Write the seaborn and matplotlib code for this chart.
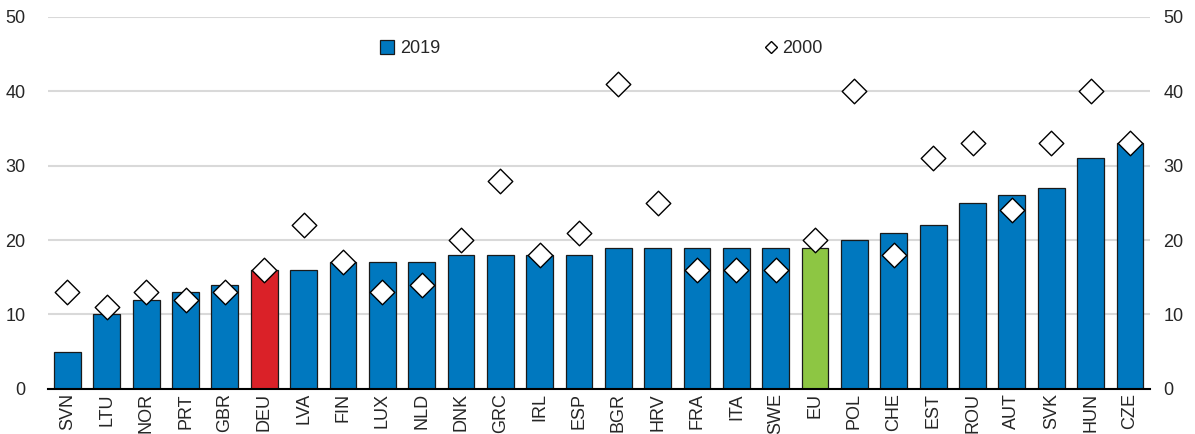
import matplotlib
matplotlib.use("Agg")
import matplotlib.pyplot as plt
import seaborn as sns
from matplotlib.patches import Patch
from matplotlib.lines import Line2D

# Datos
paises = ["SVN", "LTU", "NOR", "PRT", "GBR", "DEU", "LVA", "FIN", "LUX", "NLD",
          "DNK", "GRC", "IRL", "ESP", "BGR", "HRV", "FRA", "ITA", "SWE", "EU",
          "POL", "CHE", "EST", "ROU", "AUT", "SVK", "HUN", "CZE"]
valores_2019 = [5, 10, 12, 13, 14, 16, 16, 17, 17, 17, 18, 18, 18, 18, 19, 19,
                19, 19, 19, 19, 20, 21, 22, 25, 26, 27, 31, 33]
valores_2000 = [13, 11, 13, 12, 13, 16, 22, 17, 13, 14, 20, 28, 18, 21, 41, 25,
                16, 16, 16, 20, 40, 18, 31, 33, 24, 33, 40, 33]
ticks_y = [0, 10, 20, 30, 40, 50]

AZUL = "#0078BF"
ROJO = "#DA2128"
VERDE = "#8DC643"
colores = {p: AZUL for p in paises}
colores["DEU"] = ROJO
colores["EU"] = VERDE

sns.set_style("white")
plt.rcParams["font.family"] = ["Liberation Sans", "DejaVu Sans"]
plt.rcParams["font.size"] = 13

fig = plt.figure(figsize=(11.95, 4.34), dpi=100)
ax = fig.add_axes([0.040, 0.104, 0.922, 0.857])

sns.barplot(x=paises, y=valores_2019, hue=paises, palette=colores, legend=False,
            saturation=1, width=0.68, edgecolor="#1a1a1a", linewidth=0.9,
            ax=ax, zorder=2)
sns.stripplot(x=paises, y=valores_2000, marker="D", jitter=False, size=12.5,
              color="white", edgecolor="black", linewidth=1.0, ax=ax, zorder=3)

ax.set_xlim(-0.5, len(paises) - 0.5)
ax.set_ylim(0, 50)
ax.set_yticks(ticks_y)
ax.grid(axis="y", color="#d9d9d9", linewidth=1.5, zorder=0)
ax.set_axisbelow(True)
for lado in ["top", "right", "left"]:
    ax.spines[lado].set_visible(False)
ax.spines["bottom"].set_color("black")
ax.spines["bottom"].set_linewidth(1.5)
ax.tick_params(axis="x", rotation=90, length=0, pad=3, labelsize=13)
ax.tick_params(axis="y", length=0, pad=16, labelsize=13)

ax2 = ax.twinx()
ax2.set_ylim(0, 50)
ax2.set_yticks(ticks_y)
for lado in ["top", "right", "left", "bottom"]:
    ax2.spines[lado].set_visible(False)
ax2.tick_params(axis="y", length=0, pad=10, labelsize=13)

# Leyendas
leg1 = ax.legend(handles=[Patch(facecolor=AZUL, edgecolor="#1a1a1a", linewidth=0.9)],
                 labels=["2019"], loc="center left", bbox_to_anchor=(0.295, 0.915),
                 frameon=False, handlelength=0.8, handleheight=0.8, handletextpad=0.3,
                 fontsize=13, borderaxespad=0)
ax.add_artist(leg1)
ax.legend(handles=[Line2D([], [], marker="D", linestyle="none", markersize=6,
                          markerfacecolor="white", markeredgecolor="black",
                          markeredgewidth=1.0)],
          labels=["2000"], loc="center left", bbox_to_anchor=(0.645, 0.915),
          frameon=False, handlelength=0.6, handletextpad=0.3, fontsize=13,
          borderaxespad=0)

fig.savefig("out.png", dpi=100)
plt.close(fig)
